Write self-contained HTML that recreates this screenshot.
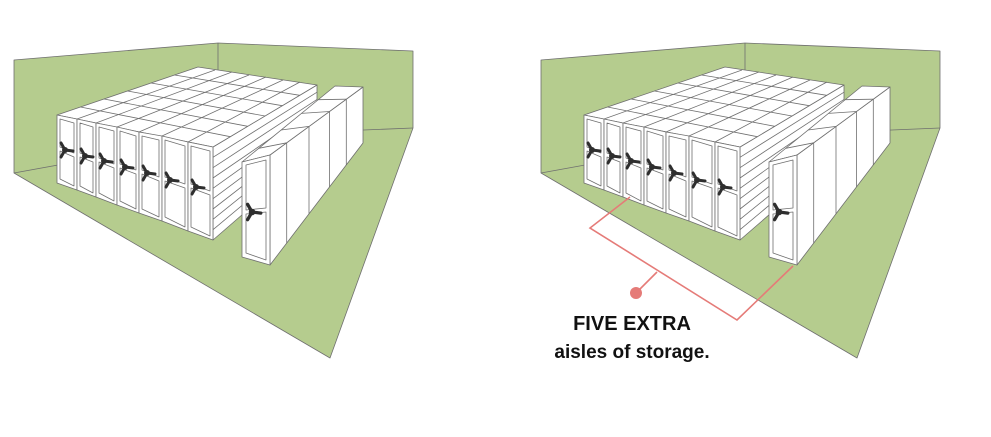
<!DOCTYPE html>
<html><head><meta charset="utf-8">
<style>
html,body{margin:0;padding:0;background:#fff;}
body{width:991px;height:437px;position:relative;overflow:hidden;font-family:"Liberation Sans",sans-serif;}
svg{position:absolute;left:0;top:0;}
.t{position:absolute;left:532px;width:200px;text-align:center;font-weight:bold;color:#111;}
</style></head>
<body>
<svg width="991" height="437" viewBox="0 0 991 437" xmlns="http://www.w3.org/2000/svg" xmlns:xlink="http://www.w3.org/1999/xlink">
<defs>
<g id="hd">
<g fill="none" stroke="#2e2e2e" stroke-width="3" stroke-linecap="round">
<line x1="0" y1="0" x2="8" y2="1"/><line x1="0" y1="0" x2="-4" y2="-7"/><line x1="0" y1="0" x2="-4" y2="7"/>
</g><circle cx="0" cy="0" r="3" fill="#2e2e2e"/>
</g>
<g id="scene" stroke="#6f6f6f" stroke-width="0.8" stroke-linejoin="round">
<polygon points="14,60 218,43 413,51 413,128 330,358 14,173" fill="#b5cc8e"/>
<line x1="218" y1="43" x2="218" y2="136"/>
<line x1="14" y1="173" x2="218" y2="136"/>
<line x1="218" y1="136" x2="413" y2="128"/>
<polygon points="213,147 317,85 317,150 213,240" fill="#fff"/>
<line x1="213" y1="157.3" x2="317" y2="92.2"/><line x1="213" y1="167.7" x2="317" y2="99.4"/>
<line x1="213" y1="178" x2="317" y2="106.7"/><line x1="213" y1="188.3" x2="317" y2="113.9"/>
<line x1="213" y1="198.7" x2="317" y2="121.1"/><line x1="213" y1="209" x2="317" y2="128.3"/>
<line x1="213" y1="219.3" x2="317" y2="135.6"/><line x1="213" y1="229.7" x2="317" y2="142.8"/>
<polygon points="57,115 213,147 317,85 198,67" fill="#fff"/>
<line x1="77" y1="119" x2="215" y2="70"/><line x1="96" y1="123" x2="232" y2="72"/>
<line x1="117" y1="127" x2="249" y2="75"/><line x1="139" y1="132" x2="266" y2="77"/>
<line x1="162" y1="136" x2="283" y2="80"/><line x1="188" y1="142" x2="300" y2="82"/>
<line x1="80.5" y1="107" x2="230.3" y2="136.7"/><line x1="104" y1="99" x2="247.7" y2="126.3"/>
<line x1="127.5" y1="91" x2="265" y2="116"/><line x1="151" y1="83" x2="282.3" y2="105.7"/>
<line x1="174.5" y1="75" x2="299.7" y2="95.3"/>
<g fill="#fff">
<polygon points="57,115 77,119 77,190 57,183"/>
<polygon points="60,119 74,123 74,153 60,147"/><polygon points="60,151 74,157 74,186 60,179"/>
<polygon points="77,119 96,123 96,197 77,190"/>
<polygon points="80,123 93,127 93,158 80,153"/><polygon points="80,157 93,162 93,193 80,186"/>
<polygon points="96,123 117,127 117,205 96,197"/>
<polygon points="99,127 114,131 114,164 99,158"/><polygon points="99,162 114,168 114,201 99,193"/>
<polygon points="117,127 139,132 139,213 117,205"/>
<polygon points="120,131 136,136 136,170 120,164"/><polygon points="120,168 136,174 136,209 120,201"/>
<polygon points="139,132 162,136 162,221 139,213"/>
<polygon points="142,136 159,140 159,177 142,170"/><polygon points="142,174 159,181 159,217 142,209"/>
<polygon points="162,136 188,142 188,231 162,221"/>
<polygon points="165,140 185,146 185,184 165,177"/><polygon points="165,181 185,188 185,227 165,217"/>
<polygon points="188,142 213,147 213,240 188,231"/>
<polygon points="191,146 210,151 210,191 191,184"/><polygon points="191,188 210,195 210,236 191,227"/>
</g>
<g stroke="none">
<use xlink:href="#hd" href="#hd" x="65" y="150"/><use xlink:href="#hd" href="#hd" x="85" y="156"/>
<use xlink:href="#hd" href="#hd" x="104" y="161"/><use xlink:href="#hd" href="#hd" x="125" y="167"/>
<use xlink:href="#hd" href="#hd" x="147" y="173"/><use xlink:href="#hd" href="#hd" x="170" y="180"/>
<use xlink:href="#hd" href="#hd" x="196" y="187"/>
</g>
<polygon points="270,155 363,87 363,143 270,265" fill="#fff"/>
<line x1="286.7" y1="142.8" x2="286.7" y2="243"/><line x1="309" y1="126.4" x2="309" y2="213.8"/>
<line x1="329.5" y1="111.5" x2="329.5" y2="186.9"/><line x1="346.3" y1="99.2" x2="346.3" y2="165"/>
<polygon points="242,162 270,155 363,87 335,86" fill="#fff"/>
<line x1="258.7" y1="148.3" x2="286.7" y2="142.8"/><line x1="281" y1="130" x2="309" y2="126.4"/>
<line x1="301.5" y1="113.4" x2="329.5" y2="111.5"/><line x1="318.3" y1="99.7" x2="346.3" y2="99.2"/>
<polygon points="242,162 270,155 270,265 242,257" fill="#fff"/>
<polygon points="246,165 266,160 266,208 246,210" fill="#fff"/>
<polygon points="246,214 266,212 266,260 246,253" fill="#fff"/>
<g stroke="none" transform="translate(252,212) scale(1.1)"><use xlink:href="#hd" href="#hd"/></g>
</g>
</defs>
<use xlink:href="#scene" href="#scene" x="0" y="0"/>
<use xlink:href="#scene" href="#scene" x="527" y="0"/>
<g stroke="#e57b78" stroke-width="1.6" fill="none">
<polyline points="630,197 590,228 737,320 793,266"/>
<line x1="657" y1="272" x2="636" y2="293"/>
</g>
<circle cx="636" cy="293" r="6" fill="#e57b78"/>
</svg>
<div class="t" style="top:313px;font-size:20px;">FIVE EXTRA</div>
<div class="t" style="top:342px;font-size:19px;">aisles of storage.</div>
</body></html>
